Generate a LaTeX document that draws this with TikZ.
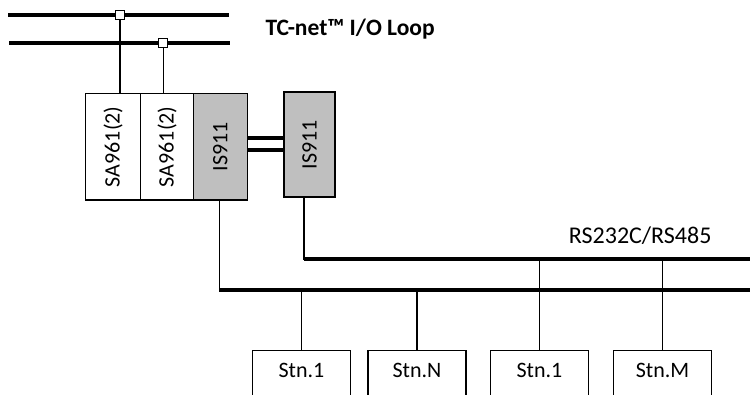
\documentclass[tikz,border=0pt]{standalone}
\usepackage{fontspec}
\setmainfont{Carlito}
\tikzset{
    unit/.style={draw, line width=1.3pt, minimum height=106.7, inner sep=0pt},
    stn/.style={draw, line width=1.3pt, anchor=north, minimum width=98, inner xsep=0pt, inner ysep=6, text height=21, text depth=30},
    port/.style={draw, line width=1.3pt, fill=white, minimum size=9, inner sep=0pt},
    bus/.style={line width=4pt},
    wire/.style={line width=1.4pt}
}
\begin{document}
\begin{tikzpicture}[x=1pt, y=-1pt, font=\fontsize{22}{24}\selectfont]
\clip (0,0) rectangle (750,394);
\draw[bus] (8,15) -- (229,15);
\draw[bus] (9,43) -- (230,43);
\node[unit, minimum width=55] (sa1) at (113.2,146.7) {\rotatebox{90}{SA961(2)}};
\node[unit, minimum width=52.6] (sa2) at (167,146.7) {\rotatebox{90}{SA961(2)}};
\node[unit, fill=black!25, minimum width=54] (is1) at (220.3,146.7) {\rotatebox{90}{IS911}};
\node[unit, fill=black!25, minimum width=51, minimum height=105] (is2) at (309.5,144.5) {\rotatebox{90}{IS911}};
\node[port] (p1) at (120,15) {};
\node[port] (p2) at (163.3,43) {};
\draw[wire] (p1) -- (p1 |- sa1.north);
\draw[wire] (p2) -- (p2 |- sa2.north);
\draw[bus] (is1.east |- 0,138.3) -- (is2.west |- 0,138.3);
\draw[bus] (is1.east |- 0,150) -- (is2.west |- 0,150);
\node[font=\fontsize{23.5}{26}\selectfont\bfseries, anchor=base west] (title) at (262,35) {TC-net™ I/O Loop};
\coordinate (e1) at (750,259);
\coordinate (e2) at (750,290);
\draw[wire] ([xshift=-1]is1.south) |- (e2);
\draw[bus] ([xshift=-1]is1.south |- e2) -- (e2);
\draw[wire] ([xshift=-5.5]is2.south) |- (e1);
\draw[bus] ([xshift=-5.5]is2.south |- e1) -- (e1);
\node[anchor=base east, font=\fontsize{24}{26}\selectfont] (rs) at (715,243) {RS232C/RS485};
\node[stn] (s1) at (301.5,350) {Stn.1};
\node[stn] (s2) at (417,350) {Stn.N};
\node[stn] (s3) at (539.5,350) {Stn.1};
\node[stn] (s4) at (662.5,350) {Stn.M};
\draw[wire] (s1.north) -- (s1.north |- e2);
\draw[wire] (s2.north) -- (s2.north |- e2);
\draw[wire] (s3.north) -- (s3.north |- e1);
\draw[wire] (s4.north) -- (s4.north |- e1);
\end{tikzpicture}
\end{document}
